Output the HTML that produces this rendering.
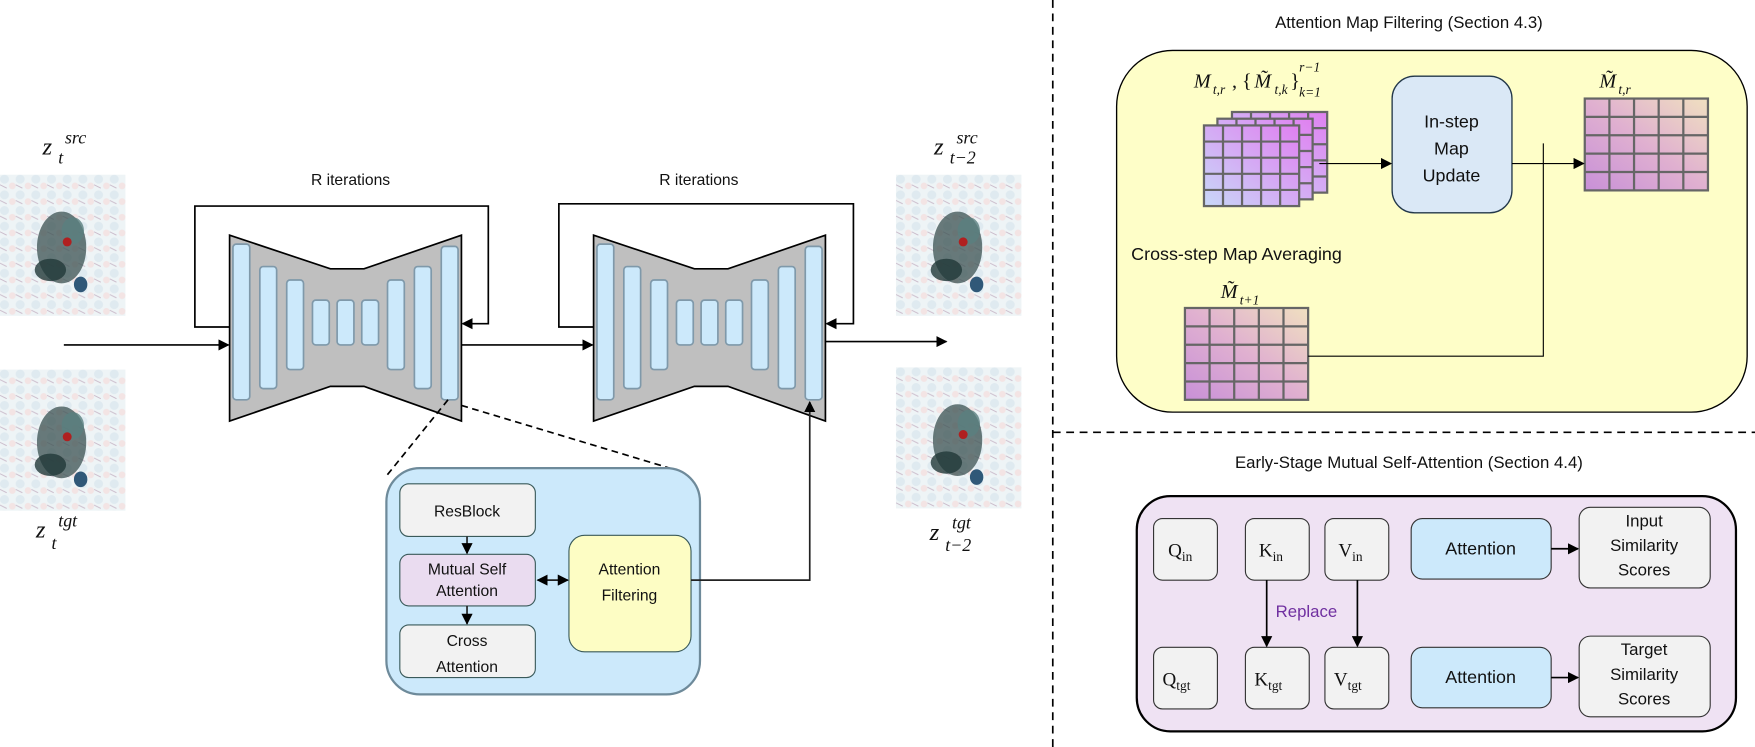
<!DOCTYPE html>
<html><head><meta charset="utf-8"><style>
html,body{margin:0;padding:0;background:#fff;}
svg{display:block;}
text{font-family:"Liberation Sans",sans-serif;fill:#111;}
.m{font-family:"Liberation Serif",serif;font-style:italic;}
.r{font-family:"Liberation Serif",serif;}
</style></head><body>
<svg width="1755" height="747" viewBox="0 0 1567 667" preserveAspectRatio="none" xmlns="http://www.w3.org/2000/svg">
<defs>
<marker id="a" markerWidth="10" markerHeight="10" refX="9" refY="5" orient="auto" markerUnits="userSpaceOnUse"><path d="M0,0 L10,5 L0,10 z" fill="#000"/></marker>
<marker id="as" markerWidth="10" markerHeight="10" refX="1" refY="5" orient="auto" markerUnits="userSpaceOnUse"><path d="M10,0 L0,5 L10,10 z" fill="#000"/></marker>
<linearGradient id="gp" x1="0" y1="1" x2="1" y2="0"><stop offset="0" stop-color="#c8d8f8"/><stop offset="1" stop-color="#e080f0"/></linearGradient>
<linearGradient id="gq" x1="0" y1="1" x2="1" y2="0"><stop offset="0" stop-color="#c890d8"/><stop offset="0.5" stop-color="#e0b0d0"/><stop offset="1" stop-color="#f0e0c0"/></linearGradient>
<pattern id="np" width="14" height="14" patternUnits="userSpaceOnUse"><rect width="14" height="14" fill="#eef4f6"/><circle cx="4" cy="4" r="4" fill="#dfeaf0"/><circle cx="11" cy="10" r="3" fill="#f3e4e4"/><path d="M0,9 L6,12" stroke="#c9b9c9" stroke-width="0.8"/></pattern>
<g id="unet">
<polygon points="0,0 90,30 120,30 207,0 207,166 120,135 90,135 0,166" fill="#bfbfbf" stroke="#000" stroke-width="1.5"/>
<g fill="#cce9fb" stroke="#7f99aa" stroke-width="1.5">
<rect x="3" y="8" width="15" height="139" rx="3"/><rect x="27" y="28" width="15" height="109" rx="3"/><rect x="51" y="40" width="15" height="80" rx="3"/><rect x="74" y="58" width="15" height="40" rx="3"/><rect x="96" y="58" width="15" height="40" rx="3"/><rect x="118" y="58" width="15" height="40" rx="3"/><rect x="141" y="40" width="15" height="80" rx="3"/><rect x="165" y="28" width="15" height="109" rx="3"/><rect x="189" y="10" width="15" height="137" rx="3"/>
</g></g>
<g id="noise">
<rect width="112" height="126" fill="url(#np)"/>
<ellipse cx="55" cy="65" rx="22" ry="32" fill="#3a5050" opacity="0.75"/>
<ellipse cx="45" cy="85" rx="14" ry="10" fill="#203838" opacity="0.8"/>
<ellipse cx="65" cy="50" rx="10" ry="12" fill="#5a8080" opacity="0.8"/>
<circle cx="60" cy="60" r="4" fill="#b02020"/>
<ellipse cx="72" cy="98" rx="6" ry="7" fill="#305878"/>
</g>
<g id="grid">
<rect width="85" height="72" fill="url(#gp)" stroke="#666" stroke-width="2"/>
<path d="M17,0V72M34,0V72M51,0V72M68,0V72M0,14.4H85M0,28.8H85M0,43.2H85M0,57.6H85" stroke="#666" stroke-width="2"/>
</g>
<g id="grid2">
<rect width="110" height="82" fill="url(#gq)" stroke="#666" stroke-width="2"/>
<path d="M22,0V82M44,0V82M66,0V82M88,0V82M0,16.4H110M0,32.8H110M0,49.2H110M0,65.6H110" stroke="#666" stroke-width="2"/>
</g>
</defs>

<!-- images -->
<use href="#noise" x="0" y="156"/>
<use href="#noise" x="0" y="330"/>
<use href="#noise" x="800" y="156"/>
<use href="#noise" x="800" y="328"/>
<text class="m" x="38" y="138" font-size="22">z</text><text class="m" x="58" y="128" font-size="16">src</text><text class="m" x="52" y="146" font-size="16">t</text>
<text class="m" x="32" y="480" font-size="22">z</text><text class="m" x="52" y="470" font-size="16">tgt</text><text class="m" x="46" y="490" font-size="16">t</text>
<text class="m" x="834" y="138" font-size="22">z</text><text class="m" x="854" y="128" font-size="16">src</text><text class="m" x="848" y="146" font-size="16">t−2</text>
<text class="m" x="830" y="482" font-size="22">z</text><text class="m" x="850" y="472" font-size="16">tgt</text><text class="m" x="844" y="492" font-size="16">t−2</text>

<!-- unets -->
<use href="#unet" x="205" y="210"/>
<use href="#unet" x="530" y="210"/>
<text x="313" y="165" font-size="14" text-anchor="middle">R iterations</text>
<text x="624" y="165" font-size="14" text-anchor="middle">R iterations</text>
<g fill="none" stroke="#000" stroke-width="1.5">
<path d="M205,292 H174 V184 H436 V289 H413" marker-end="url(#a)"/>
<path d="M530,292 H499 V182 H762 V289 H738" marker-end="url(#a)"/>
<path d="M57,308 H204" marker-end="url(#a)"/>
<path d="M412,308 H529" marker-end="url(#a)"/>
<path d="M737,305 H845" marker-end="url(#a)"/>
<path d="M400,357 L345,425" stroke-dasharray="6,4"/>
<path d="M412,362 L598,418" stroke-dasharray="6,4"/>
</g>
<!-- block -->
<rect x="345" y="418" width="280" height="202" rx="30" fill="#cce9fb" stroke="#6e8a9a" stroke-width="2"/>
<rect x="357" y="432" width="121" height="47" rx="8" fill="#f2f2f2" stroke="#3a5a5a"/>
<rect x="357" y="495" width="121" height="46" rx="8" fill="#eadcf0" stroke="#3a5a5a"/>
<rect x="357" y="558" width="121" height="47" rx="8" fill="#f2f2f2" stroke="#3a5a5a"/>
<rect x="508" y="478" width="109" height="104" rx="14" fill="#fdfdc4" stroke="#3a5a5a"/>
<text x="417" y="461" font-size="14" text-anchor="middle">ResBlock</text>
<text x="417" y="513" font-size="14" text-anchor="middle">Mutual Self</text>
<text x="417" y="532" font-size="14" text-anchor="middle">Attention</text>
<text x="417" y="577" font-size="14" text-anchor="middle">Cross</text>
<text x="417" y="600" font-size="14" text-anchor="middle">Attention</text>
<text x="562" y="513" font-size="14" text-anchor="middle">Attention</text>
<text x="562" y="536" font-size="14" text-anchor="middle">Filtering</text>
<g stroke="#222" stroke-width="1.5" fill="none">
<path d="M417,479 V494" marker-end="url(#a)"/>
<path d="M417,541 V557" marker-end="url(#a)"/>
<path d="M480,518 H507" marker-end="url(#a)" marker-start="url(#as)"/>
<path d="M617,518 H723 V359" marker-end="url(#a)"/>
</g>

<!-- dividers -->
<path d="M940,0 V667" stroke="#000" stroke-width="1.5" stroke-dasharray="7,5"/>
<path d="M940,386 H1567" stroke="#000" stroke-width="1.5" stroke-dasharray="7,5"/>

<!-- map filtering -->
<text x="1258" y="25" font-size="15" text-anchor="middle">Attention Map Filtering (Section 4.3)</text>
<rect x="997" y="45" width="563" height="323" rx="50" fill="#fefec8" stroke="#000" stroke-width="1.2"/>
<use href="#grid" x="1100" y="100"/>
<use href="#grid" x="1087" y="106"/>
<use href="#grid" x="1075" y="112"/>
<rect x="1243" y="68" width="107" height="122" rx="20" fill="#dae8f6" stroke="#23384a" stroke-width="1.2"/>
<text x="1296" y="114" font-size="16" text-anchor="middle">In-step</text>
<text x="1296" y="138" font-size="16" text-anchor="middle">Map</text>
<text x="1296" y="162" font-size="16" text-anchor="middle">Update</text>
<use href="#grid2" x="1415" y="88"/>
<use href="#grid2" x="1058" y="275"/>
<text x="1010" y="232" font-size="16">Cross-step Map Averaging</text>
<text class="m" x="1066" y="78" font-size="18">M</text><text class="m" x="1083" y="84" font-size="12">t,r</text>
<text class="r" x="1100" y="78" font-size="18">, {</text><text class="m" x="1120" y="78" font-size="18">M̃</text><text class="m" x="1138" y="84" font-size="12">t,k</text><text class="r" x="1152" y="78" font-size="18">}</text>
<text class="m" x="1160" y="64" font-size="12">r−1</text><text class="m" x="1160" y="86" font-size="12">k=1</text>
<text class="m" x="1428" y="78" font-size="18">M̃</text><text class="m" x="1445" y="84" font-size="12">t,r</text>
<text class="m" x="1090" y="266" font-size="18">M̃</text><text class="m" x="1107" y="272" font-size="12">t+1</text>
<g stroke="#000" stroke-width="1" fill="none">
<path d="M1178,146 H1242" marker-end="url(#a)"/>
<path d="M1350,146 H1414" marker-end="url(#a)"/>
<path d="M1168,318 H1378 V128"/>
</g>

<!-- mutual self attention -->
<text x="1258" y="418" font-size="15" text-anchor="middle">Early-Stage Mutual Self-Attention (Section 4.4)</text>
<rect x="1015" y="443" width="535" height="210" rx="30" fill="#efe2f3" stroke="#000" stroke-width="2"/>
<g fill="#f2f2f2" stroke="#333" stroke-width="1">
<rect x="1030" y="463" width="57" height="55" rx="8"/><rect x="1112" y="463" width="57" height="55" rx="8"/><rect x="1183" y="463" width="57" height="55" rx="8"/>
<rect x="1030" y="578" width="57" height="55" rx="8"/><rect x="1112" y="578" width="57" height="55" rx="8"/><rect x="1183" y="578" width="57" height="55" rx="8"/>
<rect x="1410" y="453" width="117" height="72" rx="10"/><rect x="1410" y="568" width="117" height="72" rx="10"/>
</g>
<rect x="1260" y="463" width="125" height="54" rx="10" fill="#cce9fb" stroke="#333"/>
<rect x="1260" y="578" width="125" height="54" rx="10" fill="#cce9fb" stroke="#333"/>
<g class="r" font-size="17">
<text x="1043" y="497" class="r">Q<tspan font-size="12" dy="4">in</tspan></text>
<text x="1124" y="497" class="r">K<tspan font-size="12" dy="4">in</tspan></text>
<text x="1195" y="497" class="r">V<tspan font-size="12" dy="4">in</tspan></text>
<text x="1038" y="612" class="r">Q<tspan font-size="12" dy="4">tgt</tspan></text>
<text x="1120" y="612" class="r">K<tspan font-size="12" dy="4">tgt</tspan></text>
<text x="1191" y="612" class="r">V<tspan font-size="12" dy="4">tgt</tspan></text>
</g>
<text x="1322" y="495" font-size="16" text-anchor="middle">Attention</text>
<text x="1322" y="610" font-size="16" text-anchor="middle">Attention</text>
<text x="1468" y="470" font-size="15" text-anchor="middle">Input</text>
<text x="1468" y="492" font-size="15" text-anchor="middle">Similarity</text>
<text x="1468" y="514" font-size="15" text-anchor="middle">Scores</text>
<text x="1468" y="585" font-size="15" text-anchor="middle">Target</text>
<text x="1468" y="607" font-size="15" text-anchor="middle">Similarity</text>
<text x="1468" y="629" font-size="15" text-anchor="middle">Scores</text>
<text x="1139" y="551" font-size="15" fill="#7030a0" style="fill:#7030a0">Replace</text>
<g stroke="#000" stroke-width="1.5" fill="none">
<path d="M1131,518 V577" marker-end="url(#a)"/>
<path d="M1212,518 V577" marker-end="url(#a)"/>
<path d="M1385,490 H1409" marker-end="url(#a)"/>
<path d="M1385,605 H1409" marker-end="url(#a)"/>
</g>
</svg>
</body></html>
